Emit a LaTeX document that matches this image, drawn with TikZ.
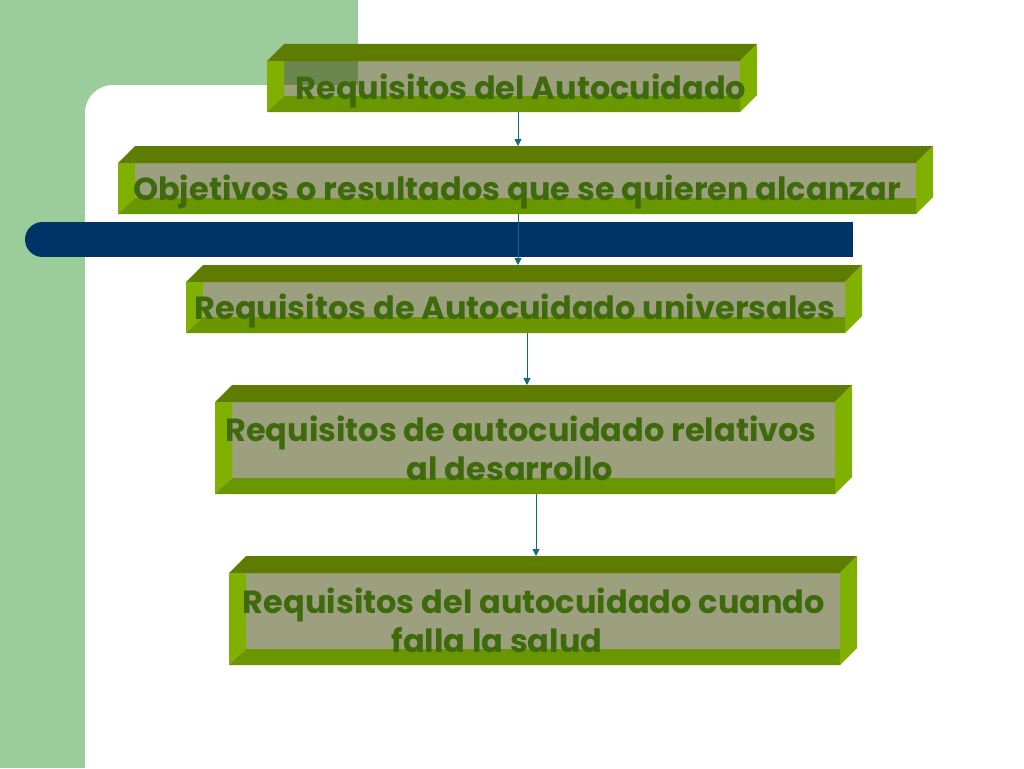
\documentclass[tikz,border=0pt]{standalone}
\usepackage{fontspec}
\newfontfamily\gotica{Poppins}
\usepackage{tikz}
\usetikzlibrary{arrows.meta}

\definecolor{fondo}{RGB}{155,205,155}
\definecolor{barra}{RGB}{0,51,102}
\definecolor{techo}{RGB}{94,124,0}
\definecolor{lado}{RGB}{128,176,0}
\definecolor{base}{RGB}{106,150,0}
\definecolor{gris}{RGB}{60,66,0}
\definecolor{letra}{RGB}{62,106,12}
\definecolor{flechita}{RGB}{20,105,125}

\begin{document}
\begin{tikzpicture}[x=1pt,y=-1pt,
    caja/.style={inner sep=0pt, outer sep=0pt},
    texto/.style={inner sep=0pt, text=letra, align=center,
        font=\gotica\bfseries\fontsize{32}{39}\selectfont},
    flecha/.style={-{Triangle[length=7pt,width=7pt]}, draw=flechita, fill=flechita, line width=1pt}]
    \useasboundingbox (0,0) rectangle (1024,768);

    % Background
    \fill[white] (0,0) rectangle (1024,768);
    \fill[fondo] (0,0) rectangle (358,120);
    \fill[fondo] (0,0) rectangle (85,768);
    \fill[white, rounded corners=28pt] (85,85) rectangle (700,900);

    % Blue bar
    \fill[barra] (42.5,222) rectangle (853,257);
    \fill[barra] (42.5,239.5) circle (17.5);

    % Draw boxes
    \foreach \n/\xa/\ya/\xb/\yb/\dx/\dy/\t in {
        req/267/44/740/112/9/-13/{Requisitos del Autocuidado},
        obj/118/146/916/214/-8.5/-12/{Objetivos o resultados que se quieren alcanzar},
        univ/186/265/845/333/-9/-12/{Requisitos de Autocuidado universales},
        desa/215/385/835/494/-12.5/-8.5/{Requisitos de autocuidado relativos\\al desarrollo\hspace*{22pt}},
        salud/229/556/840/665/-9/-10/{Requisitos del autocuidado cuando\\falla la salud\hspace*{74pt}}}
    {
        \fill[techo] (\xa,\ya+17) -- (\xa+17,\ya) -- (\xb+17,\ya) -- (\xb,\ya+17) -- cycle;
        \fill[lado] (\xb,\ya+17) -- (\xb+17,\ya) -- (\xb+17,\yb-17) -- (\xb,\yb) -- cycle;
        \fill[gris, fill opacity=0.5] (\xa+17,\ya+17) rectangle (\xb,\yb-16);
        \fill[lado] (\xa,\ya+17) -- (\xa+17,\ya+17) -- (\xa+17,\yb-16) -- (\xa,\yb) -- cycle;
        \fill[base] (\xa,\yb) -- (\xa+17,\yb-16) -- (\xb,\yb-16) -- (\xb,\yb) -- cycle;
        \node[caja, minimum width={(\xb+17-\xa)*1pt}, minimum height={(\yb-\ya)*1pt}]
            (\n) at ({(\xa+\xb+17)/2},{(\ya+\yb)/2}) {};
        \node[texto] (\n-txt) at ([xshift=\dx pt, yshift=\dy pt]\n.center) {\t};
    }

    % Arrows
    \draw[flecha] ([xshift=6pt]req.south) -- ([xshift=6pt]req.south |- obj.north);
    \draw[flecha] ([xshift=-7.5pt]obj.south) -- ([xshift=-7.5pt]obj.south |- univ.north);
    \draw[flecha] ([xshift=3pt]univ.south) -- ([xshift=3pt]univ.south |- desa.north);
    \draw[flecha] ([xshift=2.5pt]desa.south) -- ([xshift=2.5pt]desa.south |- salud.north);
\end{tikzpicture}
\end{document}
